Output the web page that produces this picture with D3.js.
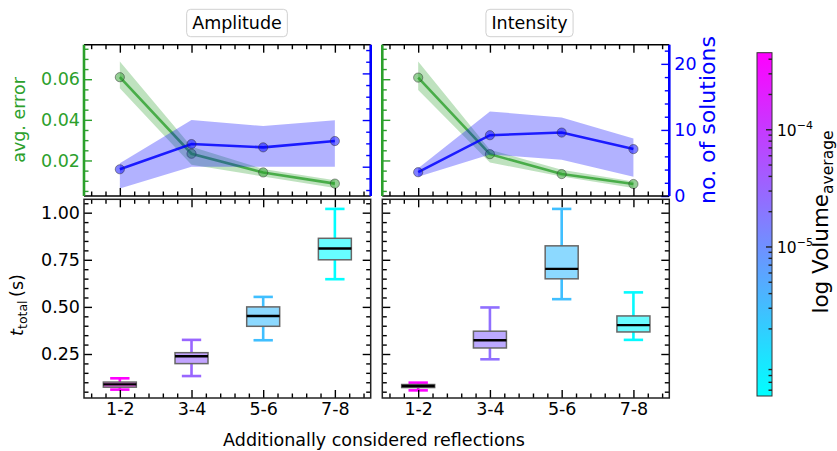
<!DOCTYPE html>
<html><head><meta charset="utf-8">
<script src="https://cdn.jsdelivr.net/npm/d3@7"></script>
<style>body{margin:0;background:#fff} text{font-family:"DejaVu Sans",Verdana,sans-serif}</style>
</head><body><svg id="c" width="837" height="451"></svg>
<script>
// ---------------- data ----------------
const categories = ["1-2", "3-4", "5-6", "7-8"];
const panelTitles = ["Amplitude", "Intensity"];
// average error (green, left axis)
const ampErr   = [0.0610, 0.0233, 0.0141, 0.0086];
const ampErrHi = [0.0687, 0.0267, 0.0158, 0.0102];
const ampErrLo = [0.0556, 0.0179, 0.0121, 0.0064];
const intErr   = [0.0608, 0.0231, 0.0133, 0.0084];
const intErrHi = [0.0687, 0.0253, 0.0154, 0.0097];
const intErrLo = [0.0547, 0.0190, 0.0121, 0.0064];
// number of solutions (blue, twin axis)
const ampSol   = [1.89, 2.97, 2.83, 3.10];
const ampSolHi = [2.15, 4.00, 3.74, 3.99];
const ampSolLo = [1.07, 2.00, 2.00, 2.00];
const intSol   = [3.6, 9.2, 9.6, 7.1];
const intSolHi = [4.2, 12.8, 11.9, 8.7];
const intSolLo = [2.9, 6.3, 5.5, 2.9];
// total time box stats: [whiskerLow, q1, median, q3, whiskerHigh]
const ampTime = [[0.061, 0.074, 0.089, 0.101, 0.121], [0.133, 0.199, 0.238, 0.257, 0.325],
                 [0.323, 0.397, 0.452, 0.500, 0.553], [0.647, 0.750, 0.810, 0.864, 1.020]];
const intTime = [[0.057, 0.072, 0.080, 0.088, 0.098], [0.222, 0.282, 0.323, 0.371, 0.497],
                 [0.541, 0.649, 0.702, 0.824, 1.020], [0.325, 0.367, 0.403, 0.452, 0.577]];
// average volume (colour)
const ampVol = [4.4e-4, 3.0e-5, 2.9e-6, 5.4e-7];
const intVol = [4.4e-4, 2.4e-5, 2.9e-6, 6.0e-7];
// ticks
const errTicks = [0.02, 0.04, 0.06];
const solTicksR = [0, 10, 20];
const solTicksL = [2, 4, 6];
const timeTicks = [0.25, 0.50, 0.75, 1.00];
const volTicks = [1e-5, 1e-4];

// ---------------- layout ----------------
const svg = d3.select("#c");
const colX = [[84, 370.7], [382.3, 669.3]];
const topY = [44.7, 196], botY = [199.3, 398];
const GREEN = "#2ca02c", BLUE = "#0000ff";
const FS = 17.5;
const xDomain = [0.5, 4.5];
const errDomain = [0.0025, 0.077];
const solDomains = [[0.744, 7.23], [0, 22.9]];
const timeDomain = [0.0165, 1.071];
const volDomain = [5.3e-7, 4.5e-4];
const MAJ = 8, MIN = 4.5;

const volScale = d3.scaleLog().domain(volDomain).range([0, 1]);
const cool = t => d3.interpolateRgb("#00ffff", "#ff00ff")(Math.max(0, Math.min(1, t)));

const xMinor = d3.range(3, 23).filter(k => k % 5 !== 0).map(k => k * 0.2);
const errMinor = d3.range(1, 16).filter(k => k % 4 !== 0).map(k => k * 0.005);
const timeMinor = d3.range(1, 22).filter(k => k % 5 !== 0).map(k => k * 0.05);
const solMinorR = d3.range(0, 12).filter(k => k % 5 !== 0).map(k => k * 2);
const solMinorL = d3.range(2, 15).filter(k => k % 4 !== 0).map(k => k * 0.5);

function axis(gen, scale, vals, len, fmt, pad, g, color) {
  const a = gen(scale).tickValues(vals.filter(v => {
    const d = scale.domain(); return v >= Math.min(...d) - 1e-9 && v <= Math.max(...d) + 1e-9;
  })).tickSize(-len).tickSizeOuter(0).tickPadding(pad).tickFormat(fmt || (() => ""));
  g.call(a);
  g.select(".domain").remove();
  g.selectAll(".tick line").attr("stroke", color).attr("stroke-width", 1.4);
  g.selectAll(".tick text").attr("fill", color).attr("font-size", FS)
    .attr("font-family", '"DejaVu Sans",Verdana,sans-serif');
  return g;
}
function ticks4(gen, scale, majors, minors, fmt, pad, tx, ty, color) {
  const g1 = svg.append("g").attr("transform", `translate(${tx},${ty})`);
  axis(gen, scale, minors, MIN, null, pad, g1, color);
  const g2 = svg.append("g").attr("transform", `translate(${tx},${ty})`);
  axis(gen, scale, majors, MAJ, fmt, pad, g2, color);
}

panelTitles.forEach((title, i) => {
  const [x0, x1] = colX[i];
  const x = d3.scaleLinear().domain(xDomain).range([x0, x1]);
  const err = i === 0 ? [ampErr, ampErrHi, ampErrLo] : [intErr, intErrHi, intErrLo];
  const sol = i === 0 ? [ampSol, ampSolHi, ampSolLo] : [intSol, intSolHi, intSolLo];
  const times = i === 0 ? ampTime : intTime;
  const vols = i === 0 ? ampVol : intVol;
  const yErr = d3.scaleLinear().domain(errDomain).range([topY[1], topY[0]]);
  const ySol = d3.scaleLinear().domain(solDomains[i]).range([topY[1], topY[0]]);
  const yT = d3.scaleLinear().domain(timeDomain).range([botY[1], botY[0]]);
  const idx = d3.range(categories.length);

  // ---- top panel ----
  const clipId = "clip" + i;
  svg.append("clipPath").attr("id", clipId).append("rect")
    .attr("x", x0).attr("y", topY[0]).attr("width", x1 - x0).attr("height", topY[1] - topY[0]);
  const gt = svg.append("g").attr("clip-path", `url(#${clipId})`);
  const band = (y, hi, lo) => d3.area().x(j => x(j + 1)).y0(j => y(lo[j])).y1(j => y(hi[j]));
  const line = (y, v) => d3.line().x(j => x(j + 1)).y(j => y(v[j]));
  gt.append("path").attr("d", band(yErr, err[1], err[2])(idx)).attr("fill", GREEN).attr("fill-opacity", 0.3);
  gt.append("path").attr("d", line(yErr, err[0])(idx)).attr("fill", "none").attr("stroke", GREEN)
    .attr("stroke-width", 2.6).attr("stroke-opacity", 0.8);
  gt.selectAll(null).data(idx).join("circle").attr("cx", j => x(j + 1)).attr("cy", j => yErr(err[0][j]))
    .attr("r", 4.6).attr("fill", GREEN).attr("fill-opacity", 0.5).attr("stroke", "#333").attr("stroke-opacity", 0.5);
  gt.append("path").attr("d", band(ySol, sol[1], sol[2])(idx)).attr("fill", BLUE).attr("fill-opacity", 0.3);
  gt.append("path").attr("d", line(ySol, sol[0])(idx)).attr("fill", "none").attr("stroke", BLUE)
    .attr("stroke-width", 2.6).attr("stroke-opacity", 0.85);
  gt.selectAll(null).data(idx).join("circle").attr("cx", j => x(j + 1)).attr("cy", j => ySol(sol[0][j]))
    .attr("r", 4.6).attr("fill", BLUE).attr("fill-opacity", 0.5).attr("stroke", "#333").attr("stroke-opacity", 0.5);

  // ticks top panel
  ticks4(d3.axisTop, x, [1, 2, 3, 4], xMinor, null, 3, 0, topY[0], "#000");
  ticks4(d3.axisBottom, x, [1, 2, 3, 4], xMinor, null, 3, 0, topY[1], "#000");
  ticks4(d3.axisLeft, yErr, errTicks, errMinor, i === 0 ? d3.format(".2f") : null, 4, x0, 0, GREEN);
  ticks4(d3.axisRight, ySol, i === 0 ? solTicksL : solTicksR, i === 0 ? solMinorL : solMinorR,
    i === 1 ? d3.format("d") : null, 5, x1, 0, BLUE);
  // spines top panel
  svg.append("line").attr("x1", x0).attr("x2", x1).attr("y1", topY[0]).attr("y2", topY[0]).attr("stroke", "#000").attr("stroke-width", 1.5);
  svg.append("line").attr("x1", x0).attr("x2", x1).attr("y1", topY[1]).attr("y2", topY[1]).attr("stroke", "#000").attr("stroke-width", 1.5);
  svg.append("line").attr("x1", x0).attr("x2", x0).attr("y1", topY[0]).attr("y2", topY[1]).attr("stroke", GREEN).attr("stroke-width", 2.6);
  svg.append("line").attr("x1", x1).attr("x2", x1).attr("y1", topY[0]).attr("y2", topY[1]).attr("stroke", BLUE).attr("stroke-width", 2.6);

  // ---- bottom panel (box plots) ----
  const bw = 0.46, cw = 0.27;
  const gb = svg.append("g");
  times.forEach((s, j) => {
    const c = cool(volScale(vols[j]));
    const cx = x(j + 1);
    const hw = (x(1 + bw / 2) - x(1)), hc = (x(1 + cw / 2) - x(1));
    gb.append("line").attr("x1", cx).attr("x2", cx).attr("y1", yT(s[0])).attr("y2", yT(s[1])).attr("stroke", c).attr("stroke-width", 2.6);
    gb.append("line").attr("x1", cx).attr("x2", cx).attr("y1", yT(s[3])).attr("y2", yT(s[4])).attr("stroke", c).attr("stroke-width", 2.6);
    gb.append("line").attr("x1", cx - hc).attr("x2", cx + hc).attr("y1", yT(s[0])).attr("y2", yT(s[0])).attr("stroke", c).attr("stroke-width", 2.6);
    gb.append("line").attr("x1", cx - hc).attr("x2", cx + hc).attr("y1", yT(s[4])).attr("y2", yT(s[4])).attr("stroke", c).attr("stroke-width", 2.6);
    gb.append("rect").attr("x", cx - hw).attr("width", 2 * hw).attr("y", yT(s[3])).attr("height", yT(s[1]) - yT(s[3]))
      .attr("fill", c).attr("fill-opacity", 0.6).attr("stroke", "#666").attr("stroke-width", 1.5);
    gb.append("line").attr("x1", cx - hw).attr("x2", cx + hw).attr("y1", yT(s[2])).attr("y2", yT(s[2])).attr("stroke", "#000").attr("stroke-width", 2.4);
  });
  ticks4(d3.axisTop, x, [1, 2, 3, 4], xMinor, null, 3, 0, botY[0], "#000");
  ticks4(d3.axisBottom, x, [1, 2, 3, 4], xMinor, (d) => categories[d - 1], 5, 0, botY[1], "#000");
  ticks4(d3.axisLeft, yT, timeTicks, timeMinor, i === 0 ? d3.format(".2f") : null, 4, x0, 0, "#000");
  ticks4(d3.axisRight, yT, timeTicks, timeMinor, null, 4, x1, 0, "#000");
  svg.append("rect").attr("x", x0).attr("y", botY[0]).attr("width", x1 - x0).attr("height", botY[1] - botY[0])
    .attr("fill", "none").attr("stroke", "#222").attr("stroke-width", 1.5);

  // ---- title box ----
  const cxT = i === 0 ? 237 : 529.5;
  const tg = svg.append("g");
  const tt = tg.append("text").attr("x", cxT).attr("y", 29.3).attr("text-anchor", "middle").attr("font-size", FS).attr("fill", "#000").text(title);
  const bb = tt.node().getBBox();
  tg.insert("rect", "text").attr("x", bb.x - 5.5).attr("y", 9.3).attr("width", bb.width + 11).attr("height", 27.4)
    .attr("rx", 4).attr("fill", "#fff").attr("stroke", "#d0d0d0").attr("stroke-width", 1);
});

// axis labels
svg.append("text").attr("transform", "translate(24.5,120) rotate(-90)").attr("text-anchor", "middle")
  .attr("font-size", FS).attr("fill", GREEN).text("avg. error");
svg.append("text").attr("transform", "translate(715,120) rotate(-90)").attr("text-anchor", "middle")
  .attr("font-size", 22).attr("fill", BLUE).text("no. of solutions");
const tl = svg.append("text").attr("transform", "translate(22.5,305) rotate(-90)").attr("text-anchor", "middle")
  .attr("font-size", FS).attr("fill", "#000");
tl.append("tspan").attr("font-style", "italic").text("t");
tl.append("tspan").attr("font-size", 12.5).attr("dy", 4).text("total");
tl.append("tspan").attr("dy", -4).text("\u2009(s)");
svg.append("text").attr("x", 374).attr("y", 446).attr("text-anchor", "middle").attr("font-size", FS)
  .attr("fill", "#000").text("Additionally considered reflections");

// ---------------- colorbar ----------------
const cbX = 757, cbW = 15, cbY0 = 52.7, cbY1 = 396;
const cbScale = d3.scaleLog().domain(volDomain).range([cbY1, cbY0]);
const defs = svg.append("defs");
const grad = defs.append("linearGradient").attr("id", "cbg").attr("x1", 0).attr("y1", 1).attr("x2", 0).attr("y2", 0);
d3.range(0, 11).forEach(k => grad.append("stop").attr("offset", k / 10).attr("stop-color", cool(k / 10)));
svg.append("rect").attr("x", cbX).attr("y", cbY0).attr("width", cbW).attr("height", cbY1 - cbY0)
  .attr("fill", "url(#cbg)").attr("stroke", "#333").attr("stroke-width", 1);
const cbMinor = [];
[-7, -6, -5, -4].forEach(e => d3.range(2, 10).forEach(m => { const v = m * Math.pow(10, e); if (v > volDomain[0] && v < volDomain[1]) cbMinor.push(v); }));
const gcm = svg.append("g").attr("transform", `translate(${cbX + cbW},0)`);
axis(d3.axisRight, cbScale, cbMinor, 3.5, null, 4, gcm, "#222");
const gcM = svg.append("g").attr("transform", `translate(${cbX + cbW},0)`);
axis(d3.axisRight, cbScale, volTicks, 6, null, 4, gcM, "#222");
volTicks.forEach(v => {
  const t = svg.append("text").attr("x", cbX + cbW + 5).attr("y", cbScale(v)).attr("dy", "0.45em")
    .attr("font-size", 15.5).attr("fill", "#000");
  t.append("tspan").text("10");
  t.append("tspan").attr("font-size", 11).attr("dy", -7.5).text("\u2212" + Math.round(-Math.log10(v)));
});
const cl = svg.append("text").attr("transform", "translate(828,222) rotate(-90)").attr("text-anchor", "middle")
  .attr("font-size", 21.5).attr("fill", "#000");
cl.append("tspan").text("log Volume");
cl.append("tspan").attr("font-size", 15.5).attr("dy", 4.5).text("average");
</script></body></html>
